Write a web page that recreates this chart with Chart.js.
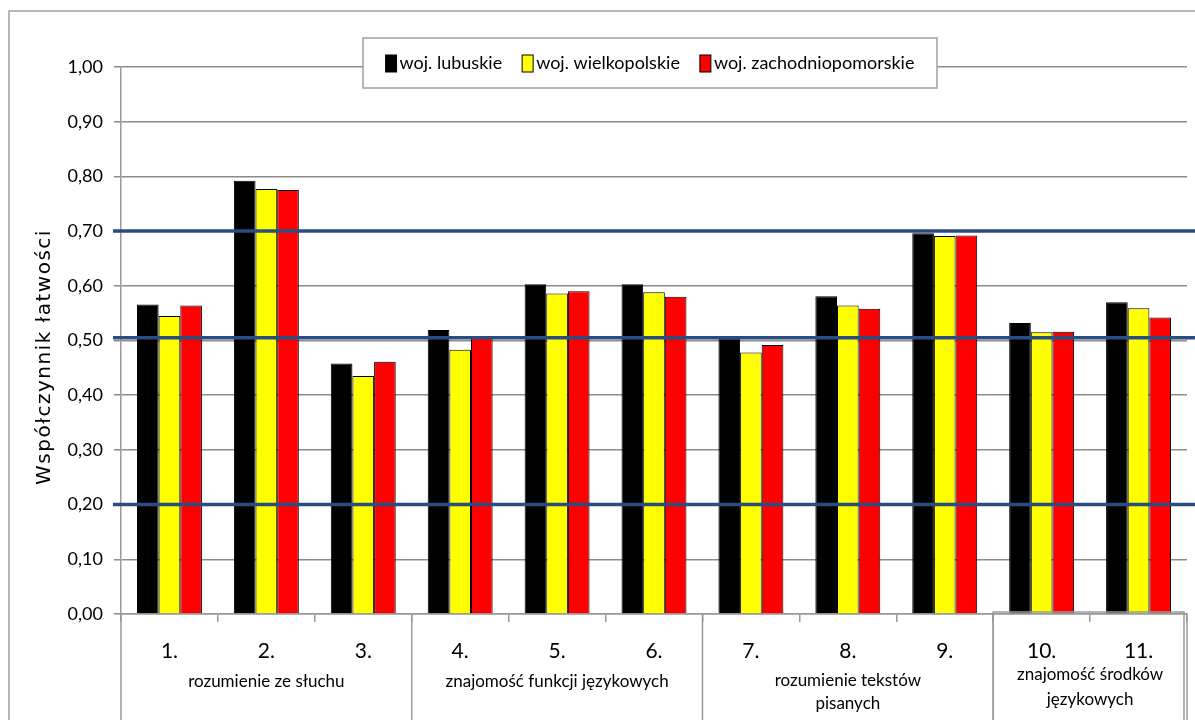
<!DOCTYPE html>
<html>
<head>
<meta charset="utf-8">
<script src="https://cdn.jsdelivr.net/npm/chart.js@4.4.1/dist/chart.umd.min.js"></script>
<style>
  body { margin: 0; background: #fff; }
  #canvas { display: block; }
</style>
</head>
<body>
<canvas id="canvas" width="1195" height="720"></canvas>
<script>
// tasks on the x axis
const taskLabels = ['1.', '2.', '3.', '4.', '5.', '6.', '7.', '8.', '9.', '10.', '11.'];

// easiness coefficient per voivodeship
const lubuskie           = [0.566, 0.792, 0.458, 0.519, 0.603, 0.603, 0.503, 0.581, 0.696, 0.532, 0.570];
const wielkopolskie      = [0.545, 0.777, 0.435, 0.483, 0.586, 0.588, 0.478, 0.564, 0.691, 0.515, 0.559];
const zachodniopomorskie = [0.564, 0.775, 0.461, 0.505, 0.590, 0.580, 0.492, 0.558, 0.692, 0.516, 0.542];

// task groups under the axis
const groupNames = [
    ['rozumienie ze słuchu'],
    ['znajomość funkcji językowych'],
    ['rozumienie tekstów', 'pisanych'],
    ['znajomość środków', 'językowych']
];
const groupSizes = [3, 3, 3, 2];

// blue reference lines
const refLines = [0.70, 0.505, 0.20];

const axisTitle = 'Współczynnik łatwości';

const labelFont = "Lato, 'Open Sans', sans-serif";

// outer frame of the chart + rotated axis title
const framePlugin = {
    id: 'frame',
    beforeDraw(chart) {
        const ctx = chart.ctx;
        ctx.save();
        ctx.strokeStyle = '#a0a0a0';
        ctx.lineWidth = 1.5;
        ctx.beginPath();
        ctx.moveTo(9, chart.height);
        ctx.lineTo(9, 11);
        ctx.lineTo(chart.width, 11);
        ctx.stroke();

        ctx.translate(45, 357);
        ctx.rotate(-Math.PI / 2);
        ctx.font = "20px 'DejaVu Sans', Verdana, sans-serif";
        ctx.letterSpacing = '1.5px';
        ctx.fillStyle = '#000';
        ctx.textAlign = 'center';
        ctx.textBaseline = 'middle';
        ctx.fillText(axisTitle, 0, 0);
        ctx.restore();
    }
};

// the three blue lines, drawn over the bars
const refLinePlugin = {
    id: 'refLines',
    afterDatasetsDraw(chart) {
        const ctx = chart.ctx;
        const y = chart.scales.y;
        ctx.save();
        ctx.strokeStyle = '#2b4c7e';
        ctx.lineWidth = 3.5;
        refLines.forEach(v => {
            const py = y.getPixelForValue(v);
            ctx.beginPath();
            ctx.moveTo(chart.chartArea.left - 8, py);
            ctx.lineTo(chart.width, py);
            ctx.stroke();
        });
        ctx.restore();
    }
};

// group boxes + names under the task numbers
const groupPlugin = {
    id: 'groups',
    afterDraw(chart) {
        const ctx = chart.ctx;
        const area = chart.chartArea;
        const slot = (area.right - area.left) / taskLabels.length;
        ctx.save();
        ctx.strokeStyle = '#9a9a9a';
        ctx.lineWidth = 1.5;
        let start = 0;
        const edges = [area.left];
        groupSizes.forEach(n => {
            start += n;
            edges.push(area.left + start * slot);
        });
        edges.forEach(ex => {
            ctx.beginPath();
            ctx.moveTo(ex, area.bottom);
            ctx.lineTo(ex, chart.height);
            ctx.stroke();
        });
        // last group sits in its own little box
        const g0 = edges[edges.length - 2];
        ctx.beginPath();
        ctx.moveTo(g0, chart.height);
        ctx.lineTo(g0, area.bottom - 2);
        ctx.lineTo(area.right - 3, area.bottom - 2);
        ctx.lineTo(area.right - 3, chart.height);
        ctx.stroke();

        ctx.fillStyle = '#000';
        ctx.font = '17px ' + labelFont;
        ctx.textAlign = 'center';
        ctx.textBaseline = 'middle';
        groupNames.forEach((lines, g) => {
            const cx = (edges[g] + edges[g + 1]) / 2;
            const last = g === groupNames.length - 1;
            const y0 = lines.length > 1 ? (last ? 675 : 681) : 682;
            const step = last ? 25 : 23;
            lines.forEach((t, i) => ctx.fillText(t, cx, y0 + i * step));
        });
        ctx.restore();
    }
};

// legend in a white box over the top gridline
const legendPlugin = {
    id: 'boxLegend',
    afterDraw(chart) {
        const ctx = chart.ctx;
        const sets = chart.data.datasets;
        const box = {left: 363, top: 38, right: 937, bottom: 88};
        ctx.save();
        ctx.fillStyle = '#fff';
        ctx.fillRect(box.left, box.top, box.right - box.left, box.bottom - box.top);
        ctx.strokeStyle = '#a0a0a0';
        ctx.lineWidth = 1.5;
        ctx.strokeRect(box.left, box.top, box.right - box.left, box.bottom - box.top);

        ctx.font = '18px ' + labelFont;
        ctx.textBaseline = 'middle';
        const sw = 11, gap = 3, itemGap = 20;
        const widths = sets.map(d => ctx.measureText(d.label).width);
        const total = widths.reduce((a, w) => a + sw + gap + w, 0) + itemGap * (sets.length - 1);
        let px = (box.left + box.right) / 2 - total / 2;
        const cy = (box.top + box.bottom) / 2;
        sets.forEach((d, i) => {
            ctx.fillStyle = d.backgroundColor;
            ctx.fillRect(px, cy - 8, sw, 17);
            ctx.strokeStyle = '#000';
            ctx.lineWidth = 1;
            ctx.strokeRect(px, cy - 8, sw, 17);
            ctx.fillStyle = '#000';
            ctx.fillText(d.label, px + sw + gap, cy);
            px += sw + gap + widths[i] + itemGap;
        });
        ctx.restore();
    }
};

const ctx = document.getElementById('canvas').getContext('2d');
const myChart = new Chart(ctx, {
    type: 'bar',
    data: {
        labels: taskLabels,
        datasets: [{
            label: 'woj. lubuskie',
            data: lubuskie,
            backgroundColor: '#000000',
            borderColor: '#000000',
            borderWidth: 1
        }, {
            label: 'woj. wielkopolskie',
            data: wielkopolskie,
            backgroundColor: '#ffff00',
            borderColor: '#000000',
            borderWidth: 1
        }, {
            label: 'woj. zachodniopomorskie',
            data: zachodniopomorskie,
            backgroundColor: '#ff0000',
            borderColor: '#000000',
            borderWidth: 1
        }]
    },
    options: {
        responsive: false,
        animation: false,
        devicePixelRatio: 1,
        layout: {padding: {top: 67, right: 8, left: 0, bottom: 0}},
        datasets: {bar: {categoryPercentage: 0.67, barPercentage: 1.0}},
        plugins: {
            legend: {display: false},
            tooltip: {enabled: false}
        },
        scales: {
            x: {
                grid: {display: true, drawOnChartArea: false, offset: true, tickLength: 8, color: '#9a9a9a', lineWidth: 1.5},
                border: {display: true, color: '#9a9a9a', width: 1.5},
                ticks: {color: '#000', padding: 17, font: {family: labelFont, size: 21}},
                afterFit: s => { s.height = 106; }
            },
            y: {
                min: 0,
                max: 1,
                ticks: {
                    stepSize: 0.1,
                    color: '#000',
                    padding: 11,
                    font: {family: labelFont, size: 18},
                    callback: v => v.toFixed(2).replace('.', ',')
                },
                grid: {color: '#8c8c8c', lineWidth: 1.5, tickLength: 7},
                border: {display: true, color: '#9a9a9a', width: 1.5},
                afterFit: s => { s.width = 121; }
            }
        }
    },
    plugins: [framePlugin, refLinePlugin, groupPlugin, legendPlugin]
});
</script>
</body>
</html>
